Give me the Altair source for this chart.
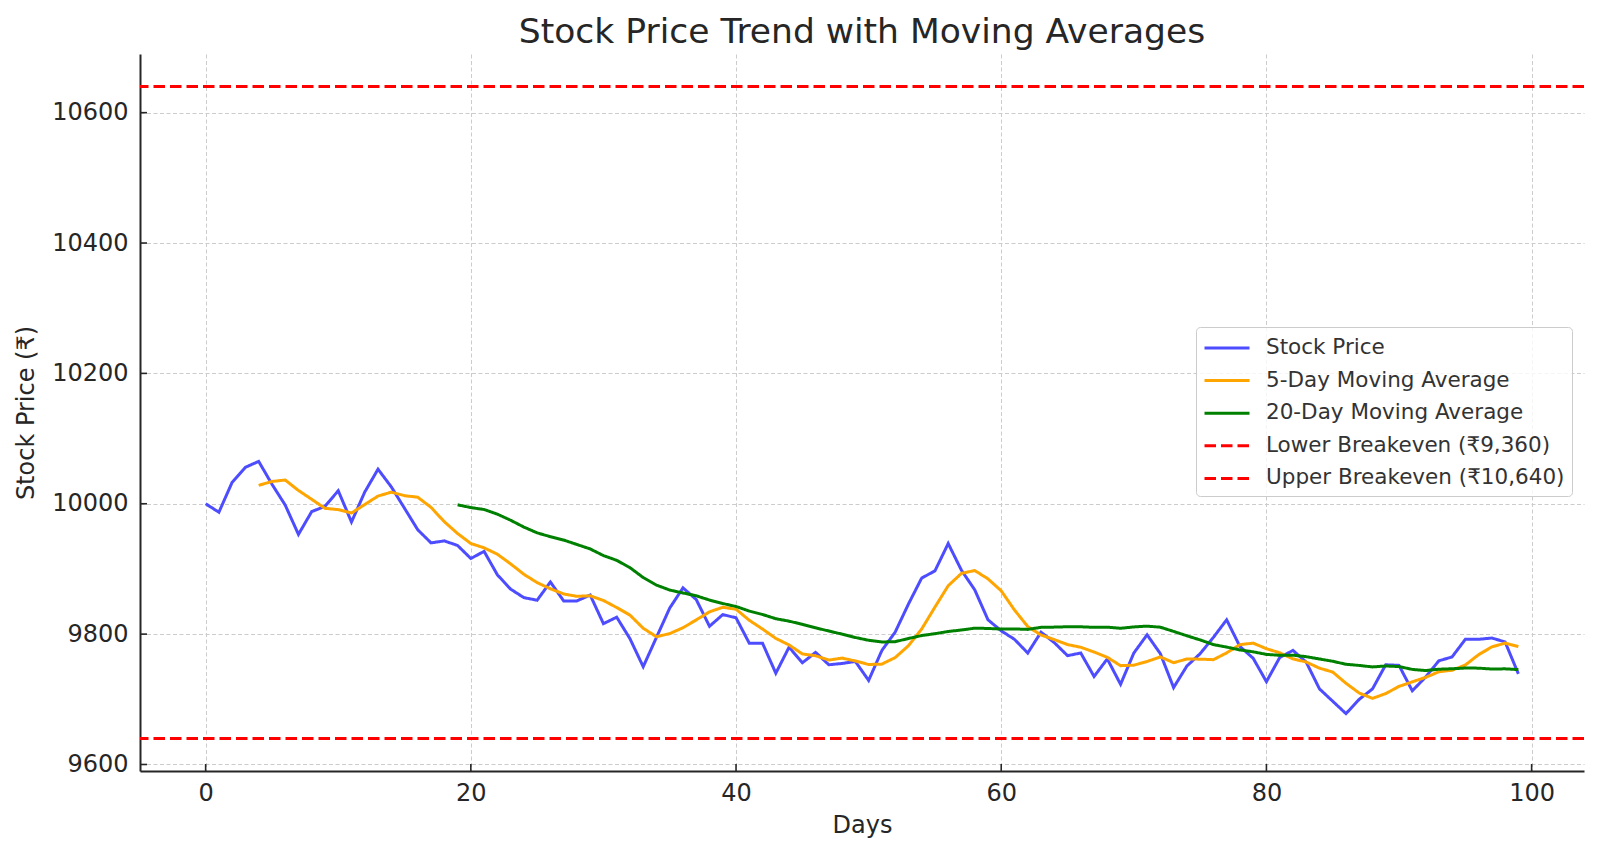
import altair as alt
import pandas as pd

days = list(range(100))
price = [10000, 9987, 10033, 10056, 10065, 10030, 9998, 9953, 9988, 9996,
         10020, 9972, 10018, 10053, 10026, 9993, 9960, 9940, 9943, 9936,
         9916, 9927, 9891, 9869, 9856, 9852, 9880, 9851, 9851, 9860,
         9816, 9826, 9793, 9750, 9795, 9840, 9871, 9853, 9812, 9830,
         9825, 9786, 9786, 9740, 9780, 9756, 9772, 9753, 9755, 9758,
         9729, 9775, 9803, 9846, 9886, 9897, 9939, 9898, 9868, 9822,
         9805, 9792, 9771, 9803, 9787, 9767, 9771, 9735, 9762, 9723,
         9771, 9799, 9770, 9718, 9751, 9770, 9795, 9822, 9781, 9763,
         9727, 9764, 9775, 9757, 9716, 9697, 9678, 9700, 9716, 9753,
         9752, 9713, 9734, 9759, 9765, 9792, 9792, 9794, 9788, 9739]

series_names = ["Stock Price", "5-Day Moving Average", "20-Day Moving Average",
                "Lower Breakeven (₹9,360)", "Upper Breakeven (₹10,640)"]
series_colors = ["#4d4dff", "#ffa500", "#008000", "#ff0000", "#ff0000"]
series_dash = [[1, 0], [1, 0], [1, 0], [11.5, 5], [11.5, 5]]
breakeven_values = [9640, 10640]
x_ticks = [0, 20, 40, 60, 80, 100]
y_ticks = [9600, 9800, 10000, 10200, 10400, 10600]

W, H = 1444, 717
FONT = "DejaVu Sans"

df = pd.DataFrame({"day": days, "price": price})
be_df = pd.DataFrame({"series": series_names[3:], "level": breakeven_values})
xt_df = pd.DataFrame({"t": x_ticks})
yt_df = pd.DataFrame({"t": y_ticks})

xscale = alt.Scale(domain=[-4.95, 103.95], nice=False, zero=False)
yscale = alt.Scale(domain=[9590, 10690], nice=False, zero=False)

legend = alt.Legend(title=None, orient="none", legendX=1056, legendY=273,
                    symbolType="M-1.8,0L1.8,0", symbolSize=625, symbolStrokeWidth=3,
                    symbolOffset=10,
                    labelFontSize=21.5, labelFont=FONT, labelColor="#333333",
                    padding=7, rowPadding=7.6, labelOffset=25,
                    strokeColor="#cccccc", fillColor="rgba(255,255,255,0.8)",
                    cornerRadius=4, labelLimit=500)

color = alt.Color("series:N", scale=alt.Scale(domain=series_names, range=series_colors), legend=legend)
dash = alt.StrokeDash("series:N", scale=alt.Scale(domain=series_names, range=series_dash), legend=legend)

xaxis = alt.Axis(values=x_ticks, title="Days", grid=True, ticks=False, tickSize=0,
                 labelPadding=10, titlePadding=8)
yaxis = alt.Axis(values=y_ticks, title="Stock Price (₹)", grid=True, ticks=False, tickSize=0,
                 labelPadding=12, titlePadding=13, format="d")

base = alt.Chart(df)

stock = base.transform_calculate(series="'Stock Price'").mark_line(strokeWidth=3).encode(
    x=alt.X("day:Q", scale=xscale, axis=xaxis),
    y=alt.Y("price:Q", scale=yscale, axis=yaxis),
    color=color, strokeDash=dash)

ma5 = base.transform_window(
    ma="mean(price)", cnt="count()", frame=[-4, 0], sort=[alt.SortField("day")]
).transform_filter("datum.cnt == 5").transform_calculate(
    series="'5-Day Moving Average'"
).mark_line(strokeWidth=3).encode(
    x=alt.X("day:Q", scale=xscale),
    y=alt.Y("ma:Q", scale=yscale),
    color=color, strokeDash=dash)

ma20 = base.transform_window(
    ma="mean(price)", cnt="count()", frame=[-19, 0], sort=[alt.SortField("day")]
).transform_filter("datum.cnt == 20").transform_calculate(
    series="'20-Day Moving Average'"
).mark_line(strokeWidth=3).encode(
    x=alt.X("day:Q", scale=xscale),
    y=alt.Y("ma:Q", scale=yscale),
    color=color, strokeDash=dash)

be = alt.Chart(be_df).mark_rule(strokeWidth=3).encode(
    y=alt.Y("level:Q", scale=yscale),
    color=color, strokeDash=dash)

xt = alt.Chart(xt_df).mark_rule(strokeWidth=1.6, color="#262626").encode(
    x=alt.X("t:Q", scale=xscale), y=alt.value(H), y2=alt.value(H - 7))
yt = alt.Chart(yt_df).mark_rule(strokeWidth=1.6, color="#262626").encode(
    y=alt.Y("t:Q", scale=yscale), x=alt.value(0), x2=alt.value(7))

chart = alt.layer(stock, ma5, ma20, be, xt, yt).properties(
    width=W, height=H,
    title=alt.Title("Stock Price Trend with Moving Averages", fontSize=34.5, font=FONT,
                    fontWeight="normal", color="#262626", offset=4, anchor="middle"),
    autosize=alt.AutoSizeParams(type="none"),
    padding={"left": 132, "top": 46, "right": 7, "bottom": 70},
).configure_view(stroke=None).configure_axis(
    labelFont=FONT, titleFont=FONT, labelFontSize=24, titleFontSize=24,
    labelColor="#262626", titleColor="#262626", titleFontWeight="normal",
    domainColor="#262626", domainWidth=2,
    gridColor="#cccccc", gridDash=[4, 2.5], gridWidth=1,
).configure_axisY(domain=True).configure_axisX(domain=True)

chart.save("out.html", embed_options={"renderer": "svg", "actions": False})
